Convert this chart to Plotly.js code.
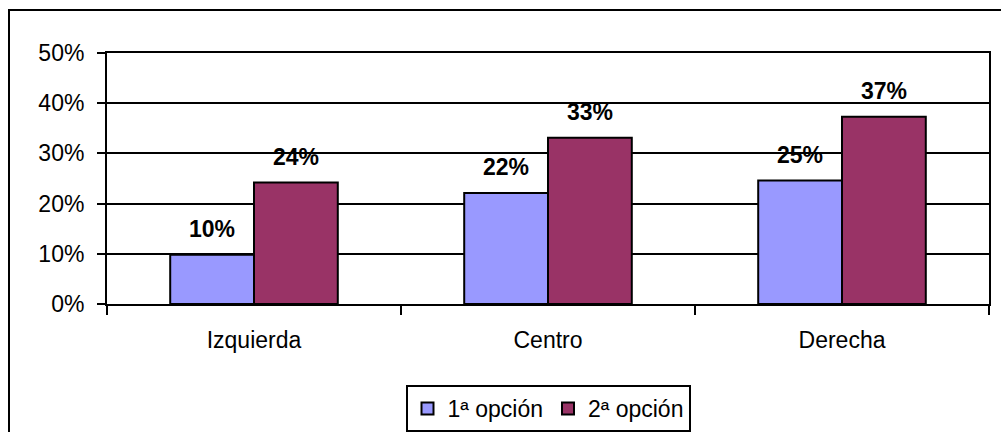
<!DOCTYPE html>
<html>
<head>
<meta charset="utf-8">
<script src="https://cdn.plot.ly/plotly-3.0.1.min.js"></script>
<style>
  html, body { margin: 0; padding: 0; overflow: hidden; background: #fff; }
  #chart { position: absolute; left: 0; top: 0; width: 1001px; height: 432px; }
  #frame { position: absolute; left: 8px; top: 9px; width: 1100px; height: 600px; border: 2px solid #000; pointer-events: none; }
</style>
</head>
<body>
<div id="chart"></div>
<div id="frame"></div>
<script>
const categories = ["Izquierda", "Centro", "Derecha"];
const seriesNames = ["1ª opción", "2ª opción"];
const opcion1 = [0.098, 0.221, 0.246];
const opcion2 = [0.242, 0.331, 0.373];
const yTickVals = [0, 0.1, 0.2, 0.3, 0.4, 0.5];

const FONT = "Liberation Sans, Arial, sans-serif";
const FS = 23;

const traces = [
  {
    type: "bar", name: seriesNames[0], x: categories, y: opcion1,
    marker: { color: "#9999FF", line: { color: "#000", width: 2 } },
    hoverinfo: "skip"
  },
  {
    type: "bar", name: seriesNames[1], x: categories, y: opcion2,
    marker: { color: "#993366", line: { color: "#000", width: 2 } },
    hoverinfo: "skip"
  }
];

const annotations = [];
[opcion1, opcion2].forEach((vals, s) => {
  vals.forEach((v, i) => {
    annotations.push({
      x: categories[i], y: v, xref: "x", yref: "y",
      xshift: s === 0 ? -42 : 42, yshift: 26,
      text: "<b>" + Math.round(v * 100) + "%</b>",
      showarrow: false, yanchor: "middle", xanchor: "center",
      font: { family: FONT, size: FS, color: "#000" }
    });
  });
});

const layout = {
  width: 1001, height: 432,
  margin: { l: 107, r: 12, t: 53, b: 128, pad: 0, autoexpand: false },
  paper_bgcolor: "#fff", plot_bgcolor: "#fff",
  font: { family: FONT, size: FS, color: "#000" },
  barmode: "group", bargap: 0.43, bargroupgap: 0,
  showlegend: true,
  legend: {
    orientation: "h", x: 0.5, xanchor: "center", xref: "paper",
    y: 1 - 385 / 432, yanchor: "top", yref: "container",
    bordercolor: "#000", borderwidth: 2, bgcolor: "#fff",
    font: { family: FONT, size: FS, color: "#000" },
    itemwidth: 30, tracegroupgap: 0
  },
  xaxis: {
    type: "category", tickson: "boundaries", ticks: "outside", ticklen: 9, tickwidth: 2,
    tickcolor: "#000", showline: true, linecolor: "#000", linewidth: 2, mirror: true,
    showgrid: false, ticklabelstandoff: 14, automargin: false,
    tickfont: { family: FONT, size: FS, color: "#000" }
  },
  yaxis: {
    range: [0, 0.5], tickvals: yTickVals, tickformat: ".0%",
    ticks: "outside", ticklen: 8, tickwidth: 2, tickcolor: "#000",
    showline: true, linecolor: "#000", linewidth: 2, mirror: true,
    showgrid: true, gridcolor: "#000", gridwidth: 2, zeroline: false,
    ticklabelstandoff: 8, automargin: false,
    tickfont: { family: FONT, size: FS, color: "#000" }
  },
  annotations: annotations
};

Plotly.newPlot("chart", traces, layout, { staticPlot: true, displayModeBar: false });
</script>
</body>
</html>
